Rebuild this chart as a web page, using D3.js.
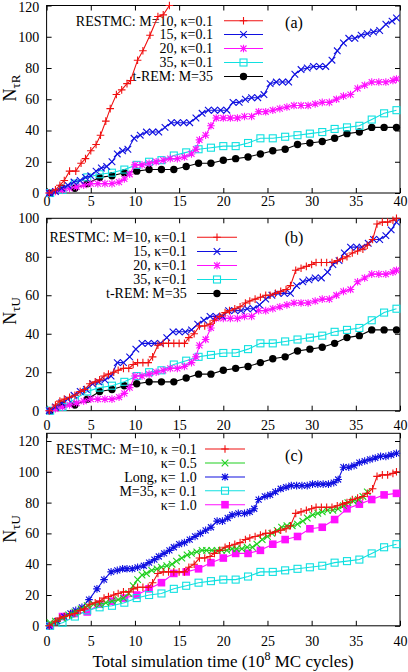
<!DOCTYPE html>
<html><head><meta charset="utf-8">
<script src="https://cdn.jsdelivr.net/npm/d3@7"></script>
<style>
body{margin:0;background:#fff}
svg text{font-family:"Liberation Serif","Times New Roman",serif;fill:#000}
</style>
</head><body>
<svg id="chart" width="408" height="672"></svg>
<script>
// ---------------- data ----------------
const xTicks = [0,5,10,15,20,25,30,35,40];
const yTicksA = [0,20,40,60,80,100,120];
const yTicksB = [0,20,40,60,80,100];
const yTicksC = [0,20,40,60,80,100,120];

// common sampling grid used by t-REM, M=35 kappa=0.1 and kappa=1.0 runs
const gridX = [0.4,1.8,3.2,4.6,6.0,7.4,8.8,10.2,11.6,13.0,14.4,15.8,17.2,18.6,20.0,21.4,22.8,24.2,25.6,27.0,28.4,29.8,31.2,32.6,34.0,35.4,36.8,38.2,39.6];

// t-REM: M=35 (panels a, b)
const tremY = [0,3,3,6,10,11,13,14,15,15,15,17,19,19,21,22,23,25,27,28,31,32,33,35,38,39,42,42,42];
// RESTMC M=35, kappa=0.1 (panels a, b, c)
const m35Y = [0,2,6,10,12,13,15,18,20,21,24,26,28,29,30,30,32,35,35,36,37,38,39,41,42,43,47,51,53];
// RESTMC M=35 kappa=1.0 (panel c)
const k10Y = [0,6,8,9,14,16,18,20,24,28,34,35,37,41,44,47,47,49,53,56,58,63,64,69,76,79,82,85,86];

// RESTMC M=20, kappa=0.1 (panels a, b)
const m20X = [0.3,1.0,1.8,2.6,3.4,4.2,5.0,5.8,6.6,7.4,8.2,8.8,9.4,10.0,10.8,11.6,12.4,13.2,14.0,14.8,15.6,16.4,16.9,17.3,18.0,18.6,19.2,20.0,20.8,21.6,22.4,23.2,24.0,24.8,25.6,26.4,27.2,28.0,28.8,29.6,30.4,31.2,32.0,32.8,33.6,34.4,35.2,36.0,36.8,37.6,38.4,39.2,39.6];
const m20Y = [0,1,2,3,4,5,6,6,6,6,7,9,12,18,18,19,20,21,22,22,23,25,28,34,37,43,48,48,48,48,49,49,52,52,53,54,55,56,56,56,57,58,58,60,62,63,67,69,71,71,71,72,73];

// RESTMC M=10, kappa=0.1, N_tauR (panel a)
const m10RX = [0.3,1.0,1.5,2.0,2.6,3.3,3.9,4.4,5.0,5.6,6.1,6.7,7.2,7.9,8.5,9.1,9.5,10.3,10.9,11.7,12.6,13.2,13.9];
const m10RY = [0,2,5,8,14,14,19,22,27,31,37,46,54,63,66,70,72,85,91,101,113,114,120];

// RESTMC M=10, kappa=0.1, N_tauU (panels b, c)
const m10UX = [0.3,1.0,1.5,2.0,2.6,3.2,3.8,4.3,4.9,5.5,6.0,6.5,7.0,7.6,8.1,8.7,9.3,9.8,10.3,10.9,11.5,12.0,12.6,13.2,13.8,14.4,15.0,15.6,16.1,16.7,17.3,17.9,18.5,19.0,19.6,20.2,20.7,21.3,21.9,22.5,23.0,23.6,24.2,24.8,25.3,25.9,26.5,27.1,27.6,28.2,28.8,29.4,30.0,30.5,31.1,31.7,32.3,32.9,33.5,34.0,34.6,35.2,35.8,36.3,36.9,37.4,38.0,38.6,39.2,39.6];
const m10UY = [0,3,5,6,7,8,10,11,14,15,16,18,19,20,21,22,22,24,25,25,25,28,34,35,35,35,35,35,38,40,44,44,45,47,49,51,52,53,54,56,57,58,59,60,60,61,62,63,65,73,74,75,76,77,77,77,77,78,79,80,82,83,84,86,89,97,98,98,99,100];

// RESTMC M=15, kappa=0.1, N_tauR (panel a)
const m15RX = [0.3,1.0,1.7,2.4,3.1,3.8,4.4,5.0,5.6,6.2,6.8,7.4,8.0,8.6,9.2,9.9,10.6,11.3,12.0,12.7,13.4,14.1,14.8,15.5,16.2,16.9,17.6,18.3,19.0,19.7,20.4,21.1,21.8,22.5,23.2,23.9,24.6,25.3,26.0,26.7,27.4,28.1,28.8,29.5,30.2,30.9,31.6,32.3,32.9,33.6,34.2,34.9,35.6,36.3,37.0,37.7,38.4,39.1,39.6];
const m15RY = [0,1,3,5,7,8,10,11,14,16,17,20,25,27,28,35,37,39,39,39,42,45,45,45,45,48,51,53,53,53,53,58,58,60,61,61,63,70,71,71,71,76,79,80,81,81,81,85,91,96,99,99,101,102,103,104,108,110,112];

// RESTMC M=15, kappa=0.1, N_tauU (panel b)
const m15UX = [0.3,1.0,1.7,2.4,3.1,3.8,4.5,5.2,5.9,6.6,7.3,8.0,8.7,9.4,10.1,10.8,11.5,12.2,12.9,13.6,14.3,15.0,15.7,16.4,17.1,17.8,18.5,19.2,19.9,20.6,21.3,22.0,22.7,23.4,24.1,24.8,25.5,26.2,26.9,27.6,28.3,29.0,29.7,30.4,31.1,31.8,32.4,33.1,33.7,34.4,35.1,35.7,36.4,37.0,37.7,38.4,39.0,39.6];
const m15UY = [0,2,4,6,8,10,11,14,15,16,18,25,25,28,32,35,35,35,35,38,41,41,41,42,45,47,49,49,49,52,52,52,53,53,55,58,60,61,61,61,65,67,68,69,69,72,76,78,82,85,85,85,87,89,89,91,94,98];

// RESTMC M=10, kappa=0.5 (panel c)
const k05X = [0.4,1.0,1.8,2.5,3.2,3.9,4.6,5.3,6.0,6.7,7.4,8.1,8.7,9.3,9.8,10.3,10.8,11.3,11.9,12.5,13.0,13.6,14.2,14.7,15.3,15.9,16.4,17.0,17.6,18.1,18.7,19.3,19.8,20.4,21.0,21.5,22.1,22.7,23.3,23.8,24.4,25.0,25.5,26.1,26.6,27.2,27.8,28.4,29.0,29.5,30.1,30.7,31.2,31.8,32.4,33.0,33.6,34.1,34.7,35.3,35.8,36.3];
const k05Y = [2,3,5,7,9,11,13,14,14,15,16,17,18,21,26,30,33,34,36,37,38,39,40,42,44,46,47,48,49,49,49,49,49,49,50,50,50,51,51,53,56,58,60,62,64,65,65,66,68,70,72,73,74,75,75,76,78,80,81,82,84,87];

// RESTMC Long, kappa=1.0 (panel c)
const longX = [0.3,1.2,2.0,2.7,3.3,4.0,4.8,5.7,6.5,7.3,8.0,8.6,9.1,9.7,10.3,11.0,11.6,12.2,12.7,13.3,13.9,14.4,15.0,15.6,16.2,16.8,17.4,18.0,18.6,19.3,19.9,20.5,21.0,21.7,22.4,23.0,23.5,24.0,24.7,25.3,25.9,26.5,27.1,27.7,28.3,28.9,29.5,30.1,30.7,31.3,31.9,32.5,33.0,33.6,34.2,34.8,35.4,36.0,36.6,37.2,37.8,38.4,39.0,39.6];
const longY = [0,3,6,8,10,12,17,24,30,35,36,37,37,37,38,39,41,43,45,47,49,51,53,54,56,58,60,62,64,68,68,70,72,73,73,74,76,82,84,85,87,89,90,91,91,91,91,92,92,92,92,93,95,103,103,104,106,107,108,109,110,110,111,112];

// ---------------- drawing ----------------
const svg = d3.select('#chart');
const L = 46.6, R = 400;
const zip = (xs, ys) => xs.map((v, i) => [v, ys[i]]);

const RED = '#f01010', BLUE = '#1010e0', MAG = '#ff10ff', CYAN = '#10e0e0', BLACK = '#000', GREEN = '#20d020';

const panels = [
  { id:'a', top:5.5, bottom:193, ymax:120, yTicks:yTicksA, label:'(a)', labelY:28, sub:'τR', titleY:88, xLabBase:206,
    legend:{ tx:213, x0:224, x1:263, rows:[20.7,34.5,48.5,62.5,76.5] },
    series:[
      { name:'RESTMC: M=10, κ=0.1', color:RED, m:'plus', data:zip(m10RX,m10RY) },
      { name:'15, κ=0.1', color:BLUE, m:'cross', data:zip(m15RX,m15RY) },
      { name:'20, κ=0.1', color:MAG, m:'star', data:zip(m20X,m20Y) },
      { name:'35, κ=0.1', color:CYAN, m:'osq', data:zip(gridX,m35Y) },
      { name:'t-REM: M=35', color:BLACK, m:'dot', data:zip(gridX,tremY) }
    ]},
  { id:'b', top:218.3, bottom:410.7, ymax:100, yTicks:yTicksB, label:'(b)', labelY:243, sub:'τU', titleY:311, xLabBase:430,
    legend:{ tx:186.7, x0:197, x1:237, rows:[237.3,251.5,265.5,279.5,293.5] },
    series:[
      { name:'RESTMC: M=10, κ=0.1', color:RED, m:'plus', data:zip(m10UX,m10UY) },
      { name:'15, κ=0.1', color:BLUE, m:'cross', data:zip(m15UX,m15UY) },
      { name:'20, κ=0.1', color:MAG, m:'star', data:zip(m20X,m20Y) },
      { name:'35, κ=0.1', color:CYAN, m:'osq', data:zip(gridX,m35Y) },
      { name:'t-REM: M=35', color:BLACK, m:'dot', data:zip(gridX,tremY) }
    ]},
  { id:'c', top:433.3, bottom:625.8, ymax:125, yTicks:yTicksC, label:'(c)', labelY:461, sub:'τU', titleY:529, xLabBase:646,
    legend:{ tx:196.7, x0:205, x1:245, rows:[449,463,477,490.7,504.7] },
    series:[
      { name:'RESTMC: M=10, κ =0.1', color:RED, m:'plus', data:zip(m10UX,m10UY) },
      { name:'κ= 0.5', color:GREEN, m:'cross', data:zip(k05X,k05Y) },
      { name:'Long, κ= 1.0', color:BLUE, m:'star', data:zip(longX,longY) },
      { name:'M=35, κ= 0.1', color:CYAN, m:'osq', data:zip(gridX,m35Y) },
      { name:'κ= 1.0', color:MAG, m:'fsq', data:zip(gridX,k10Y) }
    ]}
];

function marker(g, type, cx, cy, color) {
  const s = 3.8;
  if (type === 'plus') {
    g.append('path').attr('d',`M${cx-s},${cy}H${cx+s}M${cx},${cy-s}V${cy+s}`).attr('stroke',color).attr('stroke-width',1.1).attr('fill','none');
  } else if (type === 'cross') {
    const t = 3.3;
    g.append('path').attr('d',`M${cx-t},${cy-t}L${cx+t},${cy+t}M${cx-t},${cy+t}L${cx+t},${cy-t}`).attr('stroke',color).attr('stroke-width',1.1).attr('fill','none');
  } else if (type === 'star') {
    const t = 3.0;
    g.append('path').attr('d',`M${cx-s},${cy}H${cx+s}M${cx},${cy-s}V${cy+s}M${cx-t},${cy-t}L${cx+t},${cy+t}M${cx-t},${cy+t}L${cx+t},${cy-t}`).attr('stroke',color).attr('stroke-width',1.1).attr('fill','none');
  } else if (type === 'osq') {
    g.append('rect').attr('x',cx-3.5).attr('y',cy-3.5).attr('width',7).attr('height',7).attr('stroke',color).attr('stroke-width',1.1).attr('fill','none');
  } else if (type === 'fsq') {
    g.append('rect').attr('x',cx-3.8).attr('y',cy-3.8).attr('width',7.6).attr('height',7.6).attr('fill',color);
  } else if (type === 'dot') {
    g.append('circle').attr('cx',cx).attr('cy',cy).attr('r',3.7).attr('fill',color);
  }
}

panels.forEach(p => {
  const g = svg.append('g');
  const x = d3.scaleLinear().domain([0,40]).range([L,R]);
  const y = d3.scaleLinear().domain([0,p.ymax]).range([p.bottom,p.top]);

  const clipId = 'clip-' + p.id;
  svg.append('clipPath').attr('id',clipId).append('rect')
    .attr('x',L).attr('y',p.top).attr('width',R-L).attr('height',p.bottom-p.top);

  // axes: inward ticks on all four sides
  const styleAxis = sel => {
    sel.select('.domain').remove();
    sel.selectAll('line').attr('stroke','#000').attr('stroke-width',1);
    sel.selectAll('text').attr('font-family','"Liberation Serif","Times New Roman",serif').attr('font-size',14).attr('fill','#000');
  };
  g.append('g').attr('transform',`translate(0,${p.bottom})`)
    .call(d3.axisBottom(x).tickValues(xTicks).tickSize(-5).tickPadding(p.xLabBase - p.bottom - 10)).call(styleAxis);
  g.append('g').attr('transform',`translate(0,${p.top})`)
    .call(d3.axisTop(x).tickValues(xTicks).tickSize(-5).tickFormat('')).call(styleAxis);
  const ya = g.append('g').attr('transform',`translate(${L},0)`)
    .call(d3.axisLeft(y).tickValues(p.yTicks).tickSize(-5).tickPadding(7.3)).call(styleAxis);
  // keep the topmost label of panel (a) inside the picture
  ya.selectAll('.tick text').filter(d => y(d) < 8).attr('dy','0.45em');
  g.append('g').attr('transform',`translate(${R},0)`)
    .call(d3.axisRight(y).tickValues(p.yTicks).tickSize(-5).tickFormat('')).call(styleAxis);

  // frame
  g.append('rect').attr('x',L).attr('y',p.top).attr('width',R-L).attr('height',p.bottom-p.top)
    .attr('fill','none').attr('stroke','#000').attr('stroke-width',1);

  // y title
  const yt = g.append('text').attr('transform',`translate(16,${p.titleY}) rotate(-90)`).attr('text-anchor','middle');
  yt.append('tspan').attr('font-size',18).text('N');
  yt.append('tspan').attr('font-size',13).attr('dy',4).text(p.sub);

  // panel label
  g.append('text').attr('x',294).attr('y',p.labelY).attr('text-anchor','middle').attr('font-size',16).text(p.label);

  // legend (drawn beneath curves)
  const lg = g.append('g');
  p.series.forEach((s,i) => {
    const ry = p.legend.rows[i];
    lg.append('text').attr('x',p.legend.tx).attr('y',ry+4.8).attr('text-anchor','end').attr('font-size',14).text(s.name);
    lg.append('line').attr('x1',p.legend.x0).attr('x2',p.legend.x1).attr('y1',ry).attr('y2',ry).attr('stroke',s.color).attr('stroke-width',1.1);
    marker(lg, s.m, (p.legend.x0+p.legend.x1)/2, ry, s.color);
  });

  // series
  const line = d3.line().x(d => x(d[0])).y(d => y(d[1]));
  p.series.slice().reverse().forEach(s => {
    g.append('path').datum(s.data).attr('d',line).attr('fill','none')
      .attr('stroke',s.color).attr('stroke-width',1.1).attr('clip-path',`url(#${clipId})`);
    const mg = g.append('g');
    s.data.forEach(d => marker(mg, s.m, x(d[0]), y(d[1]), s.color));
  });
});

// x title
const xt = svg.append('text').attr('x',223).attr('y',667).attr('text-anchor','middle').attr('font-size',17);
xt.append('tspan').text('Total simulation time (10');
xt.append('tspan').attr('font-size',12).attr('dy',-7).text('8');
xt.append('tspan').attr('dy',7).text(' MC cycles)');
</script>
</body></html>
